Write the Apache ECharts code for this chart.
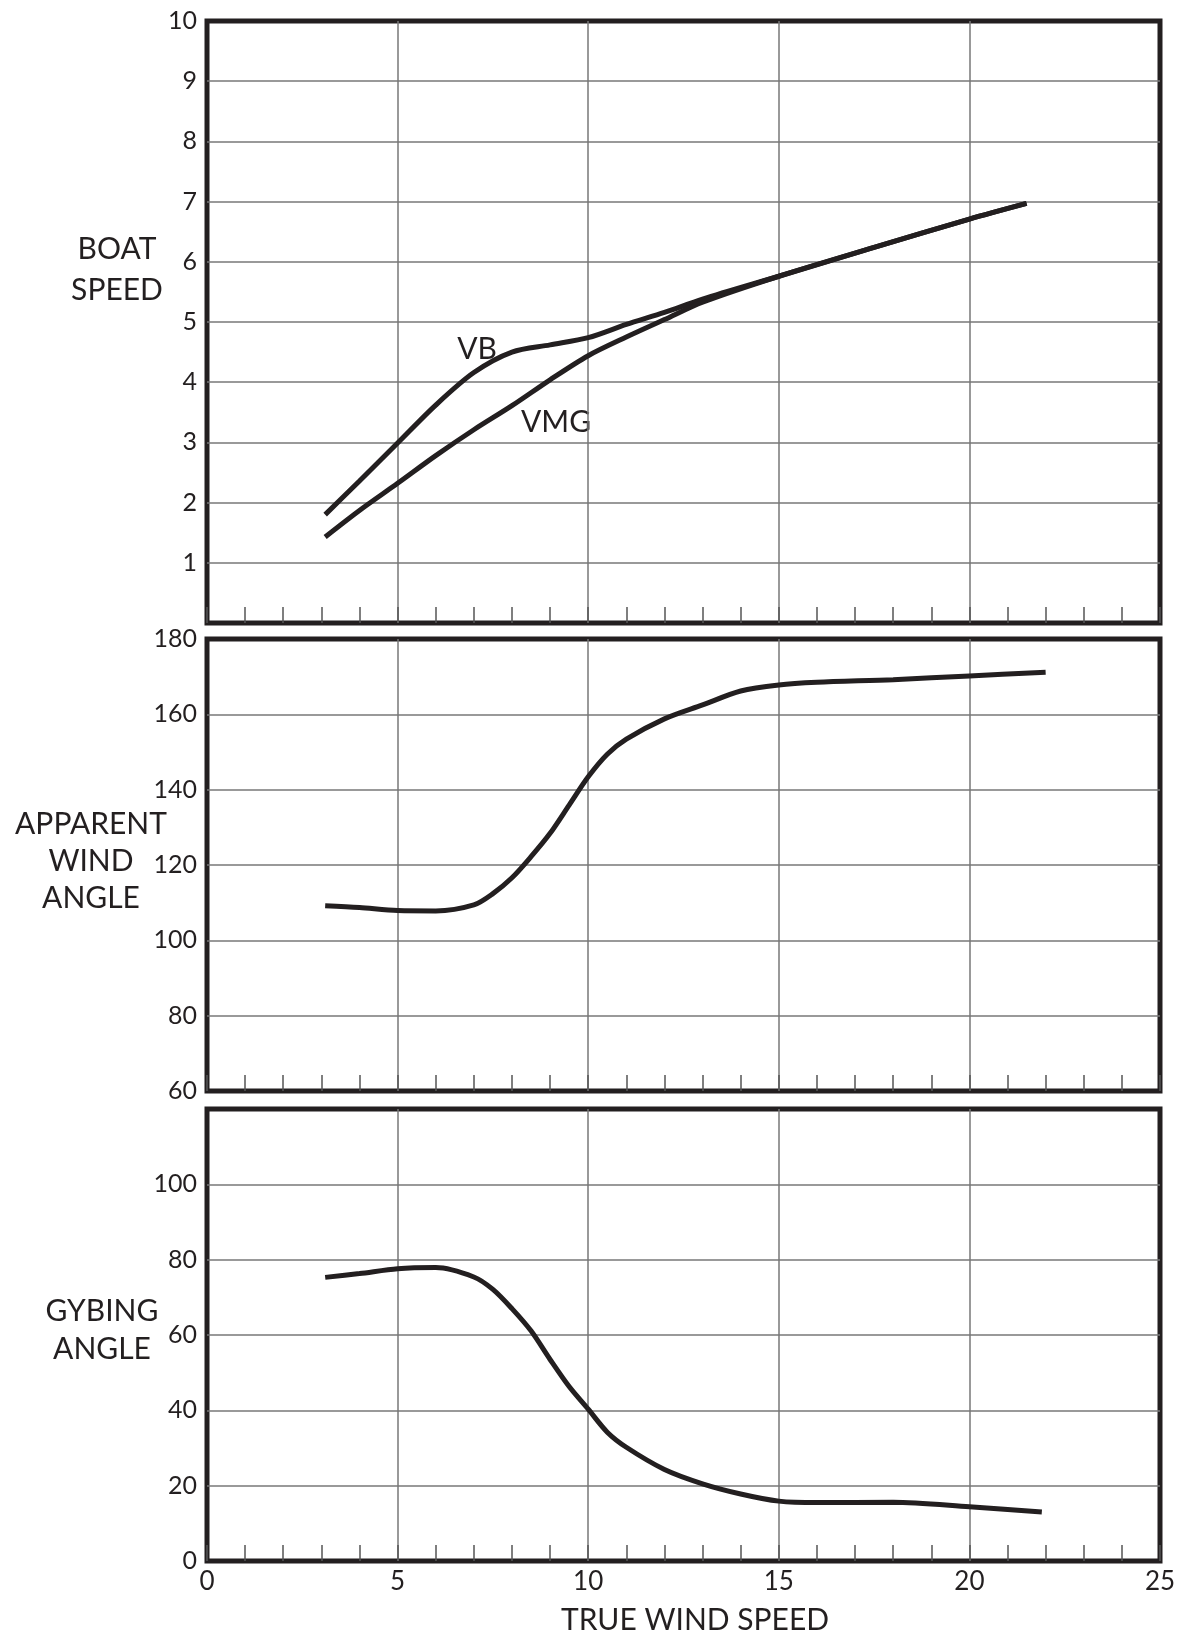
<!DOCTYPE html>
<html>
<head>
<meta charset="utf-8">
<script src="https://cdn.jsdelivr.net/npm/echarts@6/dist/echarts.min.js"></script>
<style>
  html, body { margin: 0; padding: 0; background: #fff; }
  #chart { width: 1181px; height: 1639px; }
</style>
</head>
<body>
<div id="chart"></div>
<script>
// boat speed (VB) and velocity made good (VMG) against true wind speed
var twsVB = [3.1, 4, 5, 6, 7, 8, 9, 10, 11, 12, 13, 15, 17.5, 20, 21.5];
var vb    = [1.80, 2.36, 2.99, 3.62, 4.16, 4.50, 4.62, 4.74, 4.96, 5.16, 5.38, 5.76, 6.24, 6.71, 6.97];
var twsVMG = [3.1, 4, 5, 6, 7, 8, 9, 10, 11, 12, 13, 15, 17.5, 20, 21.5];
var vmg    = [1.43, 1.87, 2.32, 2.78, 3.21, 3.61, 4.04, 4.44, 4.75, 5.04, 5.33, 5.76, 6.24, 6.71, 6.97];

// apparent wind angle
var twsAWA = [3.1, 4, 5, 6, 7, 7.5, 8, 8.5, 9, 9.5, 10, 10.5, 11, 12, 13, 14, 15, 16, 18, 20, 22];
var awa    = [109.2, 108.7, 107.9, 107.8, 109.4, 112.4, 116.6, 122.2, 128.4, 135.9, 143.4, 149.4, 153.4, 158.8, 162.5, 166.2, 167.8, 168.5, 169.2, 170.2, 171.2];

// gybing angle
var twsGyb = [3.1, 4, 5, 6, 7, 7.5, 8, 8.5, 9, 9.5, 10, 10.5, 11, 12, 13, 14, 15, 16, 18, 20, 21.9];
var gyb    = [75.3, 76.3, 77.6, 77.9, 75.4, 72.1, 67.0, 61.1, 53.5, 46.3, 40.3, 34.2, 30.2, 24.3, 20.5, 17.8, 15.9, 15.5, 15.6, 14.4, 13.0];

var xTicks = [0, 5, 10, 15, 20, 25];

function pairs(xs, ys) {
    return xs.map(function (x, i) { return [x, ys[i]]; });
}

var ink = '#231f20';
var font = 'Lato, "Open Sans", sans-serif';

function xAxisFor(idx, showLabels) {
    return {
        type: 'value',
        gridIndex: idx,
        min: xTicks[0],
        max: xTicks[xTicks.length - 1],
        interval: 5,
        axisLine: {show: false},
        axisTick: {show: true, inside: true, length: 16, lineStyle: {color: '#555', width: 1.5}},
        minorTick: {show: true, splitNumber: 5, length: 16, lineStyle: {color: '#555', width: 1.5}},
        splitLine: {show: true, showMinLine: false, showMaxLine: false, lineStyle: {color: '#777', width: 1.5}},
        axisLabel: {show: showLabels, fontSize: 26, color: ink, fontFamily: font, margin: 8}
    };
}

function yAxisFor(idx, min, max, step, extra) {
    var ax = {
        type: 'value',
        gridIndex: idx,
        min: min,
        max: max,
        interval: step,
        axisLine: {show: false},
        axisTick: {show: false},
        splitLine: {show: true, showMinLine: false, showMaxLine: false, lineStyle: {color: '#777', width: 1.5}},
        axisLabel: {fontSize: 25, color: ink, fontFamily: font, margin: 10}
    };
    Object.assign(ax.axisLabel, extra || {});
    return ax;
}

function curve(idx, data) {
    return {
        type: 'line',
        xAxisIndex: idx,
        yAxisIndex: idx,
        data: data,
        smooth: 0.3,
        showSymbol: false,
        silent: true,
        lineStyle: {color: ink, width: 5}
    };
}

var gridBase = {left: 207, right: 21, show: true, borderColor: ink, borderWidth: 5, backgroundColor: 'transparent'};

function textEl(x, y, txt, lh) {
    return {
        type: 'text',
        x: x,
        y: y,
        style: {
            text: txt,
            fill: ink,
            font: '30px ' + font,
            align: 'center',
            verticalAlign: 'middle',
            lineHeight: lh || 36
        }
    };
}

var chart = echarts.init(document.getElementById('chart'));
chart.setOption({
    animation: false,
    grid: [
        Object.assign({top: 21, height: 602}, gridBase),
        Object.assign({top: 639, height: 452}, gridBase),
        Object.assign({top: 1109, height: 452}, gridBase)
    ],
    xAxis: [xAxisFor(0, false), xAxisFor(1, false), xAxisFor(2, true)],
    yAxis: [
        yAxisFor(0, 0, 10, 1, {showMinLabel: false}),
        yAxisFor(1, 60, 180, 20),
        yAxisFor(2, 0, 120, 20, {showMaxLabel: false})
    ],
    series: [
        curve(0, pairs(twsVB, vb)),
        curve(0, pairs(twsVMG, vmg)),
        curve(1, pairs(twsAWA, awa)),
        curve(2, pairs(twsGyb, gyb))
    ],
    graphic: [
        textEl(117, 270, 'BOAT\nSPEED', 41),
        textEl(91, 861, 'APPARENT\nWIND\nANGLE', 37),
        textEl(102, 1330, 'GYBING\nANGLE', 38),
        textEl(477, 349, 'VB'),
        textEl(556, 422, 'VMG'),
        textEl(695, 1620, 'TRUE WIND SPEED')
    ]
});
</script>
</body>
</html>
